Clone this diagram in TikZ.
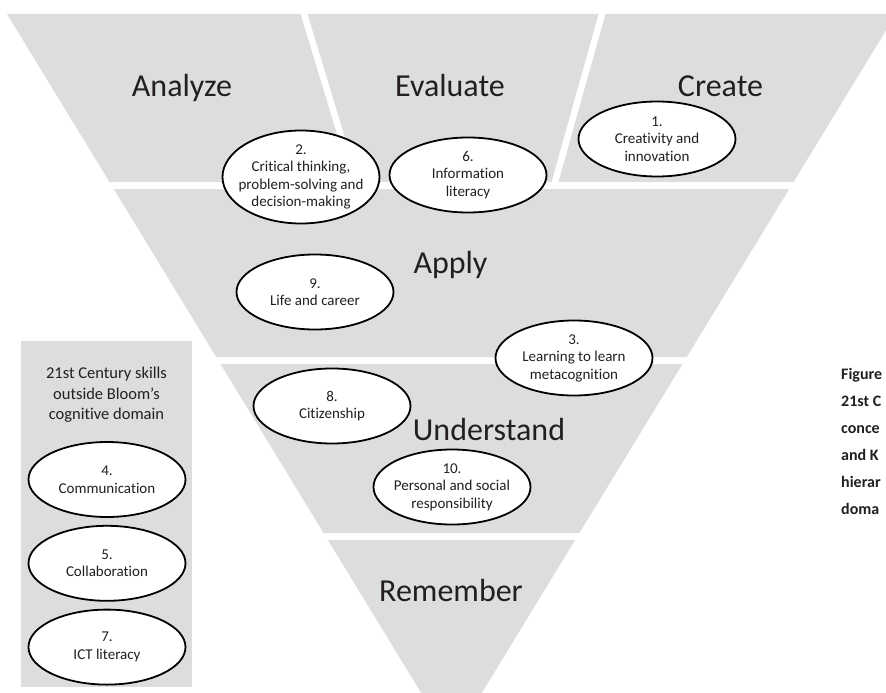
\documentclass[tikz,border=0pt]{standalone}
\usepackage{fontspec}
\setmainfont{Carlito}[Ligatures=NoCommon]
\usetikzlibrary{positioning, shapes.geometric}
\definecolor{bandgray}{RGB}{220,221,222}
\definecolor{inkdark}{RGB}{35,31,32}
\tikzset{
	band/.append style={
		fill=bandgray,
		draw=none,
	},
	gap/.append style={
		draw=white,
		line width=6.5pt,
	},
	level/.append style={
		anchor=base,
		inner sep=0pt,
		text=inkdark,
		font={\fontsize{32}{36}\selectfont},
	},
	skill/.append style={
		ellipse,
		draw=black,
		fill=white,
		line width=1.8pt,
		align=center,
		text=inkdark,
		minimum width=157pt,
		minimum height=75pt,
		inner xsep=-9pt,
		inner ysep=0pt,
		font={\fontsize{15}{17.5}\selectfont},
	},
	paneltitle/.append style={
		anchor=north,
		align=center,
		inner sep=0pt,
		text=inkdark,
		font={\fontsize{16.5}{20.5}\selectfont},
	},
	caption/.append style={
		anchor=north west,
		align=left,
		inner sep=0pt,
		text=inkdark,
		font={\bfseries\fontsize{16}{27}\selectfont},
	}
}

\begin{document}
\begin{tikzpicture}[x=1pt, y=-1pt]
\useasboundingbox (0,0) rectangle (886,693);
\clip (0,0) rectangle (886,693);

% the inverted pyramid
\fill[band] (7,14) -- (896,14) -- (793.5,182) -- (109.5,182) -- cycle;
\fill[band] (113.75,189) -- (789.25,189) -- (686.8,357) -- (216.2,357) -- cycle;
\fill[band] (220.5,364) -- (682.5,364) -- (579.4,533) -- (323.6,533) -- cycle;
\fill[band] (327.9,540) -- (575.1,540) -- (451.5,742.7) -- cycle;
\draw[gap] (302.2,8) -- (356.8,188);
\draw[gap] (603.7,8) -- (553.3,188);

% skills outside the pyramid
\fill[band] (21,341) rectangle (192,687);

\node(analyze)[level] at (182,96.5) {Analyze};
\node(evaluate)[level] at (450,96.5) {Evaluate};
\node(create)[level] at (720.5,96.5) {Create};
\node(apply)[level] at (450.5,273) {Apply};
\node(understand)[level] at (489,440) {Understand};
\node(remember)[level] at (451,601) {Remember};

\node(s1)[skill] at (657,139) {1.\\ Creativity and\\ innovation};
\node(s2)[skill, minimum height=93pt] at (301,177) {2.\\ Critical thinking,\\ problem-solving and\\ decision-making};
\node(s6)[skill] at (468,175) {6.\\ Information\\ literacy};
\node(s9)[skill] at (315,292) {9.\\ Life and career};
\node(s3)[skill] at (574,358) {3.\\ Learning to learn\\ metacognition};
\node(s8)[skill] at (332,406) {8.\\ Citizenship};
\node(s10)[skill] at (452,487) {10.\\ Personal and social\\ responsibility};

\node(outside)[paneltitle] at (106.5,367) {21st Century skills\\ outside Bloom's\\ cognitive domain};
\node(s4)[skill] at (107,479.5) {4.\\ Communication};
\node(s5)[skill, below=7pt of s4] {5.\\ Collaboration};
\node(s7)[skill, below=7pt of s5] {7.\\ ICT literacy};

\node(cap)[caption] at (841,368) {Figure\\ 21st C\\ conce\\ and K\\ hierar\\ doma};

\end{tikzpicture}
\end{document}
